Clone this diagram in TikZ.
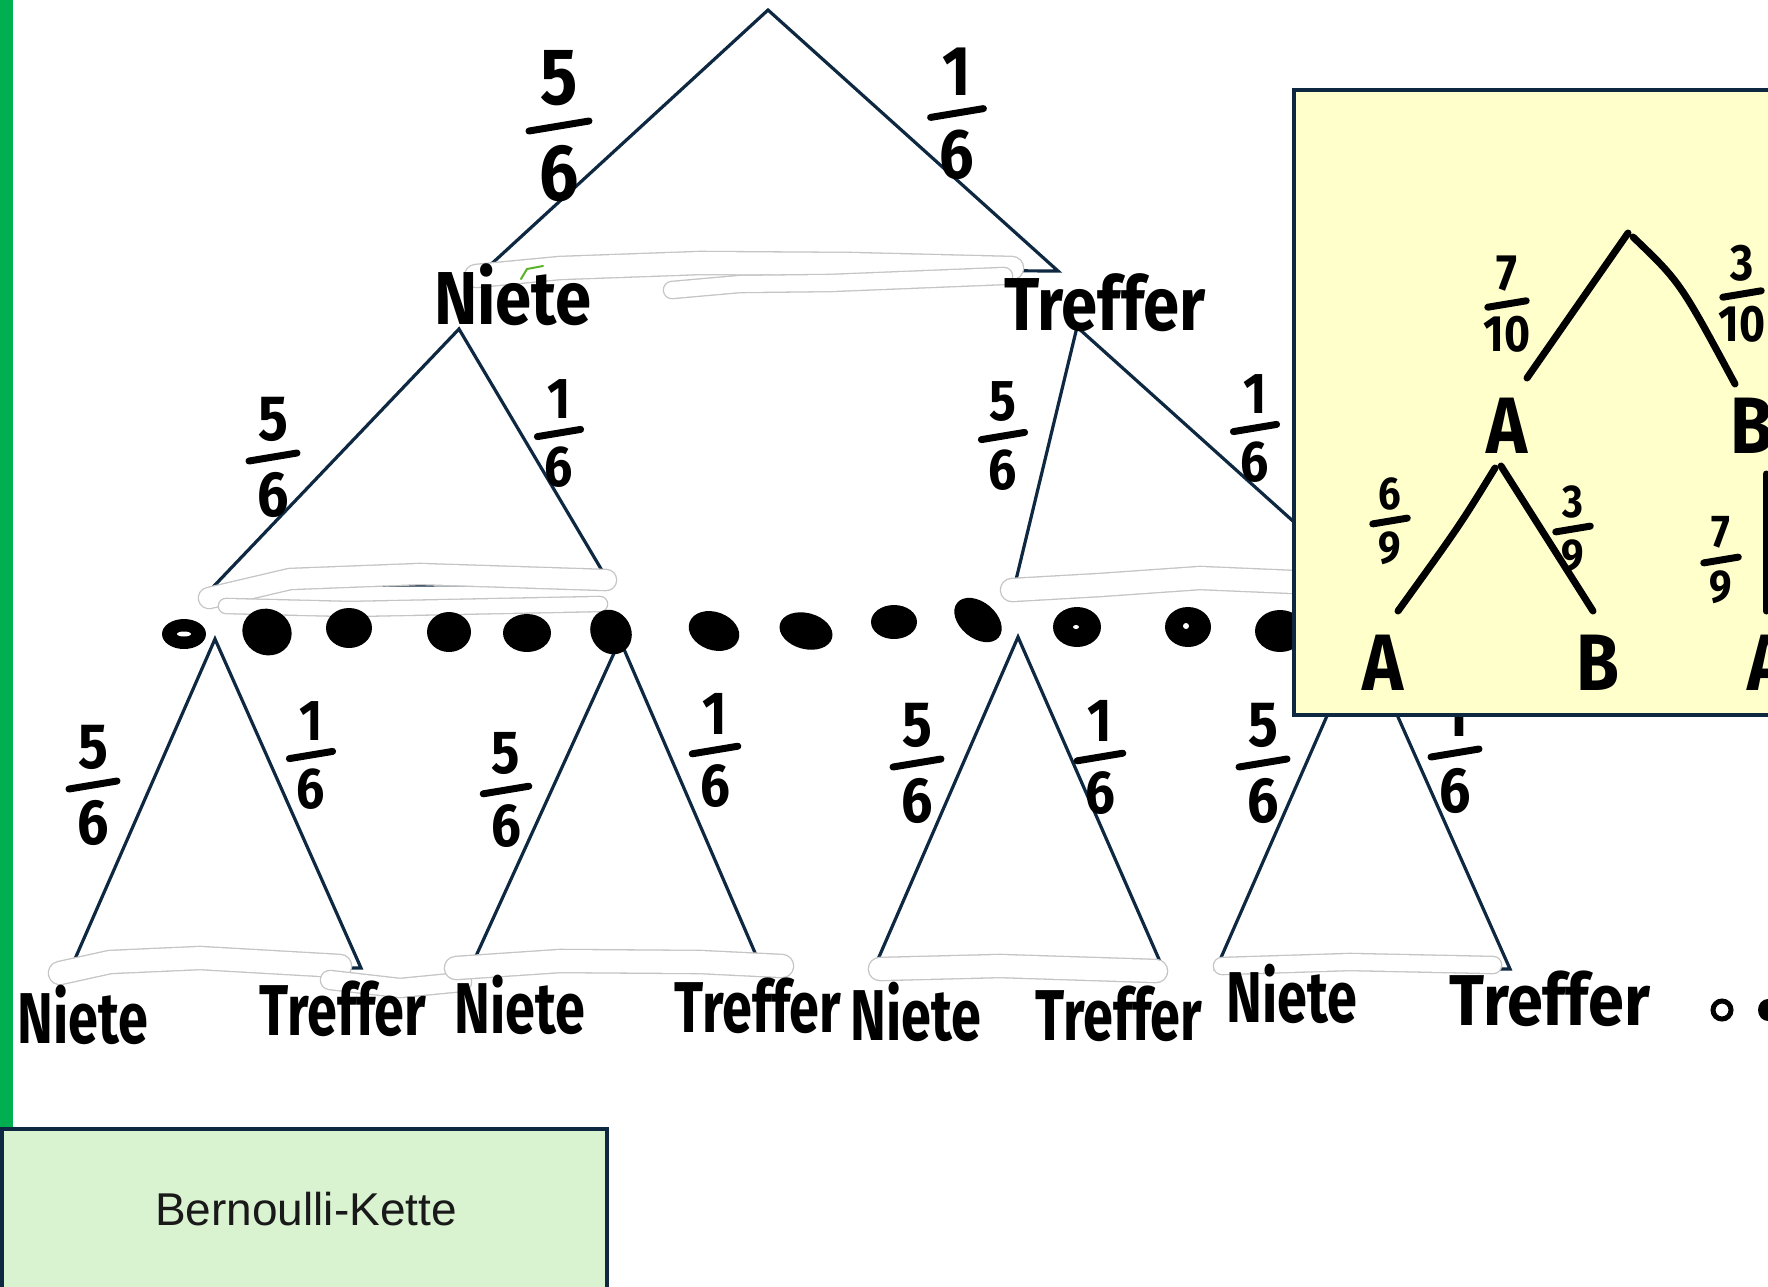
\documentclass[tikz,border=0pt]{standalone}
\usepackage{fontspec}
\setmainfont{Liberation Sans}
\newfontfamily\hand[FakeStretch=0.87]{Fira Sans}
\newfontfamily\handnarrow[FakeStretch=0.75]{Fira Sans}
\usetikzlibrary{calc}

\definecolor{navy}{RGB}{14,40,65}
\definecolor{barGreen}{RGB}{0,176,80}
\definecolor{boxGreen}{RGB}{217,242,208}
\definecolor{noteYellow}{RGB}{255,255,204}
\definecolor{eraseEdge}{RGB}{196,196,196}
\definecolor{tickGreen}{RGB}{90,180,40}

\tikzset{
  tree/.style={draw=navy, line width=3.2pt, line join=miter},
  ink/.style={draw=black, line width=7pt, line cap=round, line join=round},
  word/.style={inner sep=0pt, anchor=base, font=\hand\bfseries\fontsize{75}{80}\selectfont},
  leafword/.style={inner sep=0pt, anchor=base, font=\handnarrow\bfseries\fontsize{72}{76}\selectfont},
  letter/.style={inner sep=0pt, anchor=base, font=\hand\bfseries\fontsize{80}{84}\selectfont},
  digit/.style={inner sep=0pt, font=\hand\bfseries\fontsize{64}{70}\selectfont},
  erase/.style={draw=eraseEdge, line width=1.3pt, double=white, double distance=#1,
                line cap=round, line join=round},
  erase/.default=20pt,
  blob/.style={fill=black},
}

% hand-written fraction: name, bar centre, scale, numerator, denominator
\newcommand\handfrac[5]{%
  \begin{scope}[shift={(#2)}, scale=#3, transform shape]
    \node[digit] (#1-num) at (0,-38) {#4};
    \coordinate (#1-bl) at (-24,4);
    \coordinate (#1-br) at (24,-4);
    \draw[ink] (#1-bl) -- (#1-br);
    \node[digit] (#1-den) at (0,38) {#5};
  \end{scope}}

\begin{document}
\begin{tikzpicture}[x=1pt, y=-1pt]
\useasboundingbox (0,0) rectangle (1768,1286);
\clip (0,0) rectangle (1768,1286);
\fill[white] (0,0) rectangle (1768,1286);

% ---- tree vertices ----
\coordinate (r0) at (768,10);
\coordinate (n1) at (487,268);
\coordinate (t1) at (1058,271);
\coordinate (a2) at (459,329);
\coordinate (a2l) at (214,586);
\coordinate (a2r) at (610,584);
\coordinate (b2) at (1077,327);
\coordinate (b2l) at (1015,584);
\coordinate (b2r) at (1363,584);
\coordinate (c1) at (215,639);
\coordinate (c1l) at (71,968);
\coordinate (c1r) at (361,968);
\coordinate (c2) at (620,640);
\coordinate (c2l) at (471,967);
\coordinate (c2r) at (759,962);
\coordinate (c3) at (1018,637);
\coordinate (c3l) at (872,973);
\coordinate (c3r) at (1165,973);
\coordinate (c4) at (1362,636);
\coordinate (c4l) at (1216,969);
\coordinate (c4r) at (1510,969);

% ---- branches ----
\draw[tree] (r0) -- (n1) -- (t1) -- cycle;
\draw[tree] (a2) -- (a2l) -- (a2r) -- cycle;
\draw[tree] (b2) -- (b2l) -- (b2r) -- cycle;
\draw[tree] (c1) -- (c1l) -- (c1r) -- cycle;
\draw[tree] (c2) -- (c2l) -- (c2r) -- cycle;
\draw[tree] (c3) -- (c3l) -- (c3r) -- cycle;
\draw[tree] (c4) -- (c4l) -- (c4r) -- cycle;

% ---- rubbed-out base lines ----
\draw[erase=22pt] (476,276) -- (560,268) -- (700,263) -- (850,264) -- (1012,268);
\draw[erase=16pt] (672,290) -- (740,284) -- (830,283) -- (1004,276);
\draw[tickGreen, line width=2pt, line cap=round] (521,279) -- (527,269) -- (543,266);
\draw[erase=20pt] (209,598) -- (290,579) -- (420,574) -- (606,580);
\draw[erase=14pt] (226,606) -- (350,609) -- (600,604);
\draw[erase=22pt] (1012,590) -- (1100,585) -- (1200,578) -- (1294,582);
\draw[erase=22pt] (60,973) -- (110,962) -- (200,958) -- (340,966);
\draw[erase=18pt] (330,980) -- (400,988) -- (462,982);
\draw[erase=22pt] (456,968) -- (560,961) -- (700,962) -- (782,966);
\draw[erase=22pt] (880,969) -- (1000,966) -- (1156,971);
\draw[erase=16pt] (1222,966) -- (1350,962) -- (1493,965);

% ---- outcome labels ----
\node[word] (niete1) at (513,324) {Niete};
\node[word] (treffer1) at (1105,330) {Treffer};
\node[leafword] (niete2a) at (83,1043) {Niete};
\node[leafword] (treffer2a) at (343,1035) {Treffer};
\node[leafword] (niete2b) at (520,1033) {Niete};
\node[leafword] (treffer2b) at (758,1032) {Treffer};
\node[leafword] (niete2c) at (916,1040) {Niete};
\node[leafword] (treffer2c) at (1119,1040) {Treffer};
\node[leafword] (niete2d) at (1292,1022) {Niete};
\node[leafword, xscale=1.2, transform shape] (treffer2d) at (1550,1025) {Treffer};

% ---- branch probabilities ----
\handfrac{p1l}{559,126}{1.25}{5}{6}
\handfrac{p1r}{957,113}{1.1}{1}{6}
\handfrac{p2a}{273,457}{1}{5}{6}
\handfrac{p2b}{559,433}{0.9}{1}{6}
\handfrac{p2c}{1003,436}{0.9}{5}{6}
\handfrac{p2d}{1255,428}{0.9}{1}{6}
\handfrac{p3a}{93,785}{1}{5}{6}
\handfrac{p3b}{311,755}{0.9}{1}{6}
\handfrac{p3c}{506,790}{0.95}{5}{6}
\handfrac{p3d}{715,750}{0.95}{1}{6}
\handfrac{p3e}{917,763}{1}{5}{6}
\handfrac{p3f}{1100,757}{0.95}{1}{6}
\handfrac{p3g}{1263,763}{1}{5}{6}
\handfrac{p3h}{1455,753}{1}{1}{6}

% ---- row of dots ----
\fill[blob] (184,634) ellipse [x radius=22, y radius=15];
\fill[white] (184,634) ellipse [x radius=7, y radius=2.5];
\fill[blob, rotate around={-25:(267,632)}] (267,632) ellipse [x radius=25, y radius=23];
\fill[blob] (349,628) ellipse [x radius=23, y radius=20];
\fill[blob] (449,632) ellipse [x radius=22, y radius=20];
\fill[blob] (527,633) ellipse [x radius=24, y radius=19];
\fill[blob, rotate around={-60:(611,632)}] (611,632) ellipse [x radius=23, y radius=20];
\fill[blob, rotate around={-20:(714,631)}] (714,631) ellipse [x radius=26, y radius=19];
\fill[blob, rotate around={-15:(806,631)}] (806,631) ellipse [x radius=27, y radius=18];
\fill[blob] (894,622) ellipse [x radius=23, y radius=17];
\fill[blob, rotate around={-40:(978,620)}] (978,620) ellipse [x radius=27, y radius=18];
\fill[blob] (1077,627) ellipse [x radius=24, y radius=20];
\fill[white] (1076,627) ellipse [x radius=3, y radius=2];
\fill[blob] (1188,627) ellipse [x radius=23, y radius=20];
\fill[white] (1186,626) ellipse [x radius=3, y radius=3];
\fill[blob] (1280,631) ellipse [x radius=25, y radius=21];

% ---- trailing dots after the last leaf ----
\draw[black, line width=5pt] (1722,1010) ellipse [x radius=9, y radius=9];
\fill[blob] (1768,1010) ellipse [x radius=10, y radius=11];

% ---- note with a second tree ----
\fill[noteYellow] (1294,90) rectangle (1800,715);
\draw[navy, line width=3.2pt] (1800,90) -- (1294,90) -- (1294,715) -- (1800,715);

\coordinate (yroot) at (1628,233);
\coordinate (yrootb) at (1633,237);
\coordinate (yAend) at (1527,378);
\coordinate (yBend) at (1735,384);
\coordinate (yA2) at (1495,468);
\coordinate (yA2b) at (1501,466);
\coordinate (yAAend) at (1398,611);
\coordinate (yABend) at (1593,611);
\coordinate (yBtop) at (1766,474);
\coordinate (yBbot) at (1766,611);

\draw[ink] (yroot) -- (yAend);
\draw[ink] (yrootb) .. controls (1680,282) .. (yBend);
\draw[ink] (yA2) .. controls (1460,525) .. (yAAend);
\draw[ink] (yA2b) -- (yABend);
\draw[ink] (yBtop) -- (yBbot);

\node[letter] (yA) at (1507,453) {A};
\node[letter] (yB) at (1752,453) {B};
\node[letter] (yAA) at (1383,690) {A};
\node[letter] (yAB) at (1598,690) {B};
\node[letter] (yBA) at (1768,690) {A};

\handfrac{q1}{1507,304}{0.8}{7}{10}
\handfrac{q2}{1742,294}{0.8}{3}{10}
\handfrac{q3}{1390,521}{0.72}{6}{9}
\handfrac{q4}{1573,529}{0.72}{3}{9}
\handfrac{q5}{1721,560}{0.72}{7}{9}

% ---- side bar and caption box ----
\fill[barGreen] (0,0) rectangle (13,1128);
\draw[navy, line width=4pt, fill=boxGreen] (2,1129) rectangle (607,1300);
\node[inner sep=0pt, anchor=base, text=black!90, font=\fontsize{46}{50}\selectfont]
  (caption) at (306,1225) {Bernoulli-Kette};
\end{tikzpicture}
\end{document}
